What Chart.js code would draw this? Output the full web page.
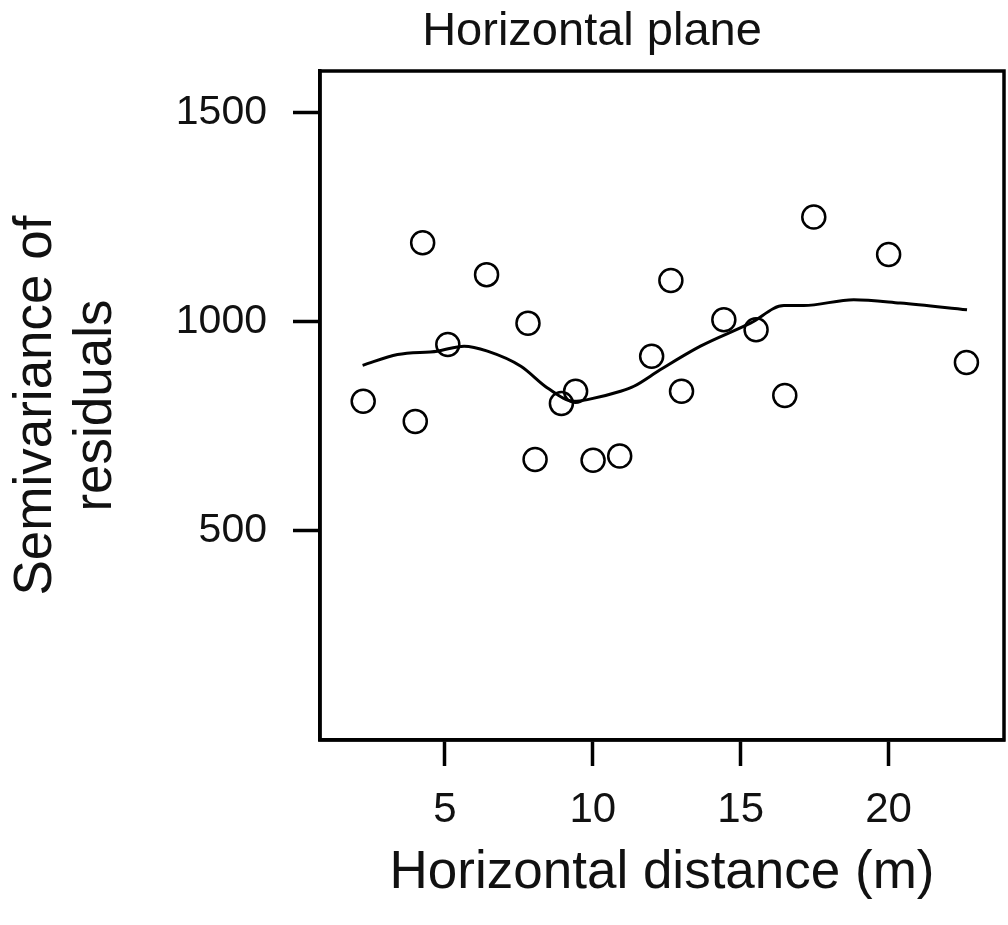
<!DOCTYPE html>
<html lang="en">
<head>
<meta charset="UTF-8" />
<title>Horizontal plane</title>
<script src="https://cdn.jsdelivr.net/npm/chart.js@4.4.1/dist/chart.umd.min.js"></script>
<style>
  html, body { margin: 0; padding: 0; background: #fff; overflow: hidden; }
  canvas { display: block; }
</style>
</head>
<body>
<canvas id="chart" width="1008" height="925"></canvas>
<script>
// empirical semivariance of the residuals per distance class
const distance = [2.24, 4.00, 4.25, 5.10, 6.41, 7.81, 8.05, 8.94, 9.42, 10.01,
                  10.91, 11.99, 12.64, 13.00, 14.43, 15.52, 16.49, 17.47, 20.00, 22.63];
const semivariance = [810, 762, 1189, 946, 1113, 997, 671, 805, 834, 669,
                      679, 918, 1099, 834, 1005, 981, 824, 1251, 1161, 903];

// smoothed trend through the points
const smoothX = [2.22, 3.40, 4.75, 5.65, 6.44, 7.57, 8.47, 9.37, 9.82, 10.94,
                 11.39, 12.29, 13.64, 15.33, 16.46, 17.13, 18.82, 20.39, 22.65];
const smoothY = [896, 922, 930, 942, 930, 894, 842, 810, 814, 834,
                 846, 886, 942, 997, 1039, 1039, 1053, 1045, 1029];

const xTicks = [5, 10, 15, 20];
const yTicks = [500, 1000, 1500];

const FONT = '"Liberation Sans", Arial, Helvetica, sans-serif';
const INK = '#111';

// box around the plotting region + main title
const framePlugin = {
  id: 'frame',
  afterDraw(chart) {
    const { ctx, chartArea: a } = chart;
    ctx.save();
    ctx.strokeStyle = '#000';
    ctx.lineWidth = 3.5;
    ctx.strokeRect(a.left, a.top, a.right - a.left, a.bottom - a.top);
    ctx.fillStyle = INK;
    ctx.font = '47px ' + FONT;
    ctx.textAlign = 'center';
    ctx.textBaseline = 'alphabetic';
    ctx.fillText('Horizontal plane', 592, 45);
    ctx.restore();
  }
};

const ctx = document.getElementById('chart').getContext('2d');

new Chart(ctx, {
  data: {
    datasets: [
      {
        type: 'line',
        data: smoothX.map((x, i) => ({ x: x, y: smoothY[i] })),
        borderColor: '#000',
        borderWidth: 3,
        pointRadius: 0,
        cubicInterpolationMode: 'monotone',
        fill: false
      },
      {
        type: 'scatter',
        data: distance.map((x, i) => ({ x: x, y: semivariance[i] })),
        pointRadius: 11.5,
        pointBorderWidth: 2.5,
        borderColor: '#000',
        backgroundColor: 'rgba(0,0,0,0)'
      }
    ]
  },
  options: {
    responsive: false,
    animation: false,
    layout: { autoPadding: false, padding: { top: 71, right: 4, left: 0, bottom: 0 } },
    plugins: {
      legend: { display: false },
      tooltip: { enabled: false }
    },
    scales: {
      x: {
        type: 'linear',
        min: 0.78,
        max: 23.9,
        afterBuildTicks: s => { s.ticks = xTicks.map(v => ({ value: v })); },
        afterFit: s => { s.height = 185; },
        grid: { drawOnChartArea: false, drawTicks: true, tickLength: 26, tickWidth: 3.5, tickColor: '#000' },
        border: { display: true, color: '#000', width: 3.5 },
        ticks: { font: { size: 42, family: FONT }, color: INK, padding: 19, maxRotation: 0,
                 callback: v => String(v) },
        title: {
          display: true,
          text: 'Horizontal distance (m)',
          font: { size: 53, family: FONT, lineHeight: 1.15 },
          color: INK,
          padding: { top: 0, bottom: 21 }
        }
      },
      y: {
        type: 'linear',
        min: 0,
        max: 1600,
        afterBuildTicks: s => { s.ticks = yTicks.map(v => ({ value: v })); },
        afterFit: s => { s.width = 320; },
        grid: { drawOnChartArea: false, drawTicks: true, tickLength: 27, tickWidth: 3.5, tickColor: '#000' },
        border: { display: true, color: '#000', width: 3.5 },
        ticks: { font: { size: 41, family: FONT }, color: INK, padding: 26,
                 callback: v => String(v) },
        title: {
          display: true,
          text: ['Semivariance of', 'residuals'],
          font: { size: 53, family: FONT, lineHeight: 1.14 },
          color: INK,
          padding: { top: 6, bottom: 0 }
        }
      }
    }
  },
  plugins: [framePlugin]
});
</script>
</body>
</html>
